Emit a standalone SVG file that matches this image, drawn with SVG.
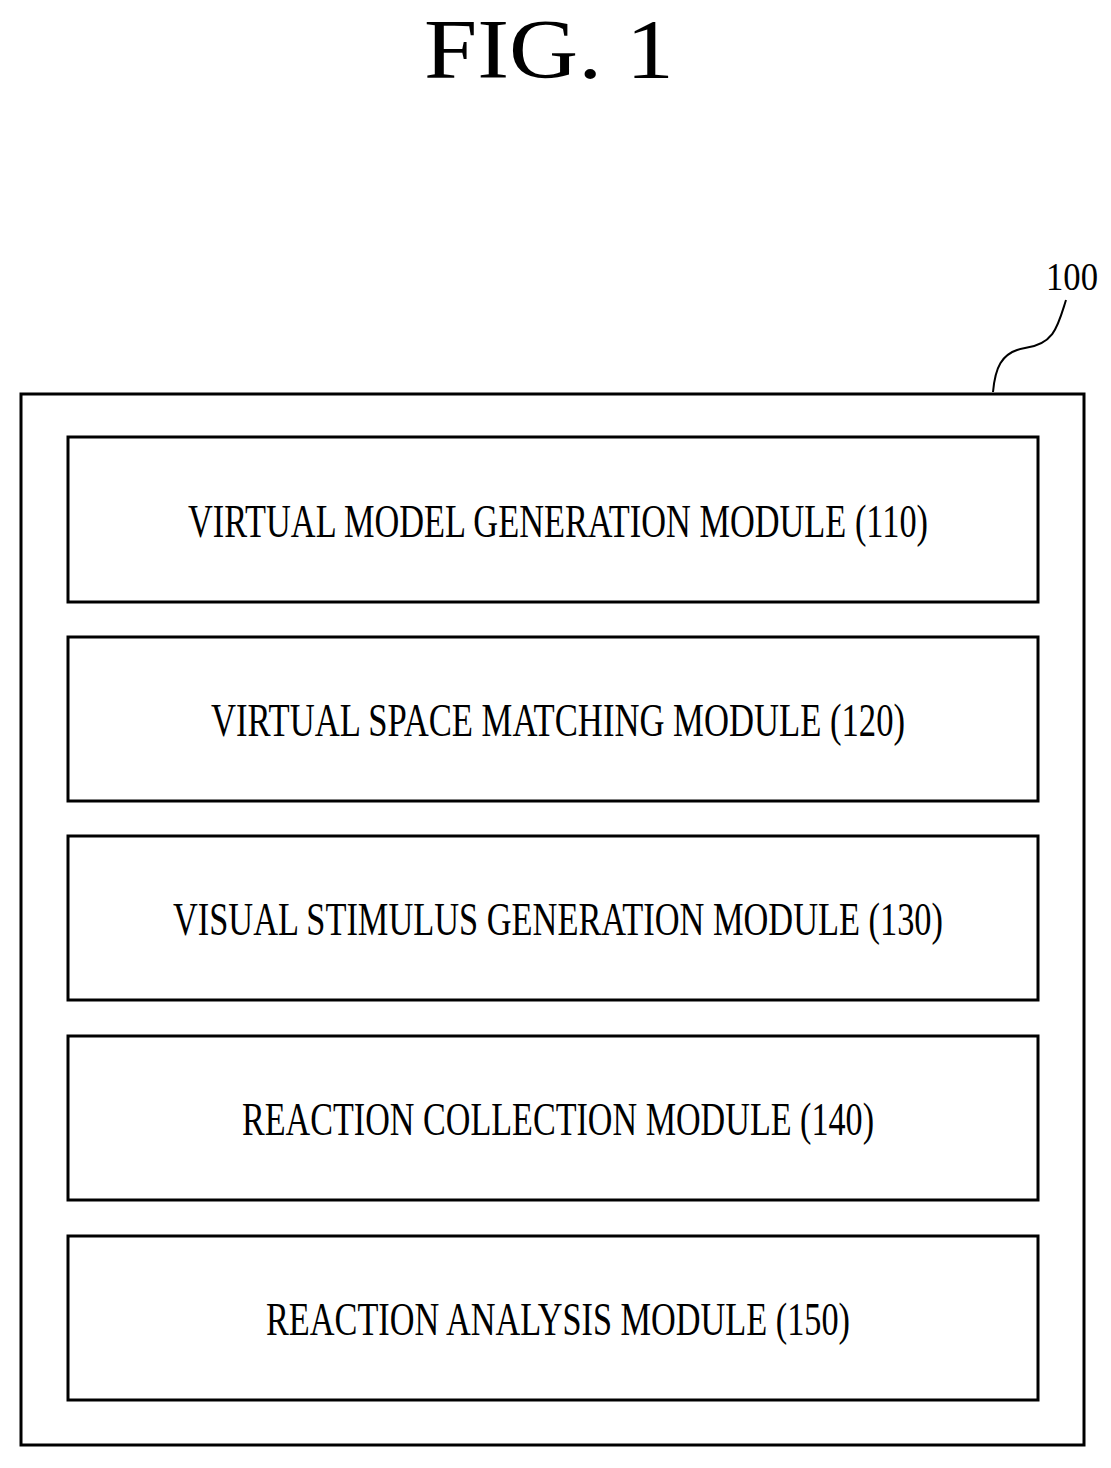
<svg xmlns="http://www.w3.org/2000/svg" width="1111" height="1468" viewBox="0 0 1111 1468">
<style>
.box{fill:none;stroke:#000;stroke-width:3}
.t{font-family:"Liberation Serif",serif;font-size:46px;text-anchor:middle;fill:#000}
</style>
<rect width="1111" height="1468" fill="#fff"/>
<text x="549" y="78" font-family="Liberation Serif,serif" font-size="84" text-anchor="middle" textLength="250" lengthAdjust="spacingAndGlyphs">FIG. 1</text>
<text x="1072" y="290" font-family="Liberation Serif,serif" font-size="40" text-anchor="middle" textLength="52" lengthAdjust="spacingAndGlyphs">100</text>
<g id="connectors"><path d="M993,392 C995,370 1000,352 1025,348 C1055,344 1058,325 1066,300" fill="none" stroke="#000" stroke-width="2"/></g>
<g id="n100"><rect class="box" x="21" y="394" width="1063" height="1051"/></g>
<g id="n110"><rect class="box" x="68" y="437" width="970" height="165"/><text class="t" x="558" y="537" textLength="740" lengthAdjust="spacingAndGlyphs">VIRTUAL MODEL GENERATION MODULE (110)</text></g>
<g id="n120"><rect class="box" x="68" y="637" width="970" height="164"/><text class="t" x="558" y="736" textLength="694" lengthAdjust="spacingAndGlyphs">VIRTUAL SPACE MATCHING MODULE (120)</text></g>
<g id="n130"><rect class="box" x="68" y="836" width="970" height="164"/><text class="t" x="558" y="935" textLength="770" lengthAdjust="spacingAndGlyphs">VISUAL STIMULUS GENERATION MODULE (130)</text></g>
<g id="n140"><rect class="box" x="68" y="1036" width="970" height="164"/><text class="t" x="558" y="1135" textLength="632" lengthAdjust="spacingAndGlyphs">REACTION COLLECTION MODULE (140)</text></g>
<g id="n150"><rect class="box" x="68" y="1236" width="970" height="164"/><text class="t" x="558" y="1335" textLength="584" lengthAdjust="spacingAndGlyphs">REACTION ANALYSIS MODULE (150)</text></g>
</svg>
